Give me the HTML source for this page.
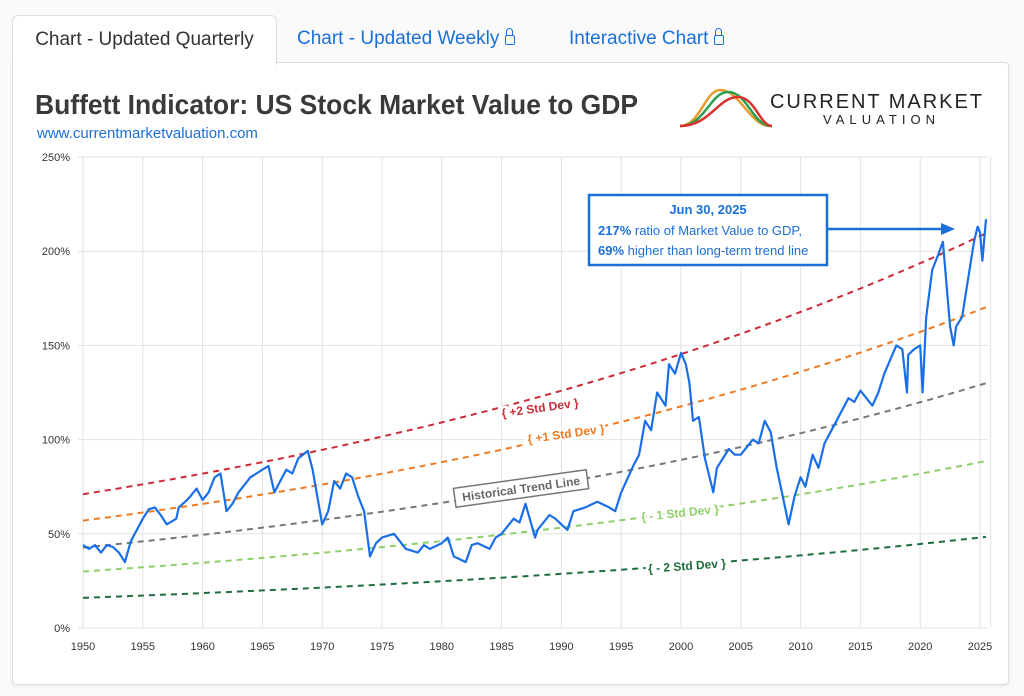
<!DOCTYPE html>
<html><head><meta charset="utf-8"><style>
body{margin:0;width:1024px;height:696px;background:#fafafa;font-family:"Liberation Sans",sans-serif;position:relative;overflow:hidden}
.card{position:absolute;left:12px;top:62px;width:995px;height:621px;background:#fff;border:1px solid #ddd;border-radius:0 4px 4px 4px;box-shadow:0 1px 4px rgba(0,0,0,.08)}
.tab{position:absolute;top:15px;height:48px;font-size:19px;line-height:48px}
.t1{left:12px;width:263px;background:#fff;border:1px solid #ddd;border-bottom:none;border-radius:6px 6px 0 0;color:#333;text-align:center;z-index:2;height:49px}
.t2{left:297px;color:#1a6fd8}.t3{left:569px;color:#1a6fd8}
.lk{display:inline-block;width:8px;height:8px;border:1.5px solid #1a6fd8;border-radius:2px;position:relative;margin-left:6px;top:1px}
.lk:before{content:"";position:absolute;left:0px;top:-8px;width:5px;height:7px;border:1.5px solid #1a6fd8;border-bottom:none;border-radius:4px 4px 0 0}
</style></head><body>
<div class="card"></div>
<div class="tab t1">Chart - Updated Quarterly</div>
<div class="tab t2">Chart - Updated Weekly<span class="lk"></span></div>
<div class="tab t3">Interactive Chart<span class="lk"></span></div>
<svg id="s" width="1024" height="696" style="position:absolute;left:0;top:0;z-index:3" font-family="Liberation Sans, sans-serif">
<text x="35" y="114" font-size="28" font-weight="bold" fill="#3a3a3a" textLength="603" lengthAdjust="spacingAndGlyphs">Buffett Indicator: US Stock Market Value to GDP</text>
<text x="37" y="138" font-size="15" fill="#1a6fd8">www.currentmarketvaluation.com</text>
<path d="M680 126 C700 126 705 90 720 90 C740 90 750 126 770 126" stroke="#e89a2c" stroke-width="2.5" fill="none"/>
<path d="M680 126 C705 126 710 92 728 92 C748 92 752 126 772 126" stroke="#2aa052" stroke-width="2.5" fill="none"/>
<path d="M680 126 C710 126 718 97 738 97 C755 97 760 126 772 126" stroke="#d8322c" stroke-width="2.5" fill="none"/>
<text x="770" y="108" font-size="20" fill="#222" textLength="212" lengthAdjust="spacing">CURRENT MARKET</text>
<text x="823" y="124" font-size="13" fill="#222" textLength="112" lengthAdjust="spacing">VALUATION</text>
<g id="grid"></g>
<g id="lines"></g>
<rect x="589" y="195" width="238" height="70" fill="#fff" stroke="#1a6fd8" stroke-width="2.5"/>
<text x="708" y="214" font-size="13" font-weight="bold" fill="#1a6fd8" text-anchor="middle">Jun 30, 2025</text>
<text x="598" y="235" font-size="13" fill="#1a6fd8"><tspan font-weight="bold">217%</tspan> ratio of Market Value to GDP,</text>
<text x="598" y="255" font-size="13" fill="#1a6fd8"><tspan font-weight="bold">69%</tspan> higher than long-term trend line</text>
<line x1="827" y1="229" x2="945" y2="229" stroke="#1a6fd8" stroke-width="2.5"/>
<polygon points="955,229 941,223 941,235" fill="#1a6fd8"/>
<g font-size="12" font-weight="bold" stroke="#fff" stroke-width="5" paint-order="stroke">
<text x="540" y="412" fill="#cc2b3a" text-anchor="middle" transform="rotate(-8 540 408)">{ +2 Std Dev }</text>
<text x="566" y="438" fill="#ee7b22" text-anchor="middle" transform="rotate(-8 566 434)">{ +1 Std Dev }</text>
<text x="680" y="517" fill="#8fcf6a" text-anchor="middle" transform="rotate(-6 680 513)">{ - 1 Std Dev }</text>
<text x="687" y="570" fill="#1d6e3c" text-anchor="middle" transform="rotate(-4 687 566)">{ - 2 Std Dev }</text>
</g>
<g transform="rotate(-8 521 488)" font-size="12" font-weight="bold"><rect x="454" y="479" width="134" height="19" fill="#fff" stroke="#777" stroke-width="1.5"/><text x="521" y="493" fill="#666" text-anchor="middle">Historical Trend Line</text></g>
</svg>
<script>
var X=function(y){return 83+(y-1950)*11.96},Y=function(p){return 628-p*1.884};
var g='';
for(var yr=1950;yr<=2025;yr+=5){g+='<line x1="'+X(yr)+'" y1="157" x2="'+X(yr)+'" y2="628" stroke="#e2e2e2"/>';g+='<text x="'+X(yr)+'" y="650" font-size="11" fill="#333" text-anchor="middle">'+yr+'</text>';}
g+='<line x1="'+X(2025.9)+'" y1="157" x2="'+X(2025.9)+'" y2="628" stroke="#e2e2e2"/>';
for(var p=0;p<=250;p+=50){g+='<line x1="78" y1="'+Y(p)+'" x2="988" y2="'+Y(p)+'" stroke="#e2e2e2"/>';g+='<text x="70" y="'+(Y(p)+4)+'" font-size="11" fill="#333" text-anchor="end">'+p+'%</text>';}
document.getElementById('grid').innerHTML=g;
function curve(a,b,c){var d='';for(var yr=1950;yr<=2025.5;yr+=0.5){var v=a*Math.pow(b/a,(yr-1950)/75);d+=(d?'L':'M')+X(yr).toFixed(1)+' '+Y(v).toFixed(1);}return '<path d="'+d+'" stroke="'+c+'" stroke-width="2" fill="none" stroke-dasharray="6,5"/>';}
var l=curve(71,208,'#cc2b3a')+curve(57,169,'#ee7b22')+curve(42.7,129,'#777')+curve(30,88,'#8fcf6a')+curve(16,48,'#1d6e3c');
var pts=[1950,44,1950.5,42,1951,44,1951.5,40,1952,44,1952.5,43,1953,40,1953.5,35,1954,46,1954.5,52,1955,58,1955.5,63,1956,64,1956.5,60,1957,55,1957.8,58,1958,64,1958.7,68,1959,70,1959.5,74,1960,68,1960.5,72,1961,80,1961.5,82,1962,62,1962.5,66,1963,72,1964,80,1964.5,82,1965,84,1965.5,86,1966,72,1966.5,78,1967,84,1967.5,82,1968,90,1968.8,94,1969.2,84,1970,55,1970.5,62,1971,78,1971.5,74,1972,82,1972.5,80,1973,70,1973.5,62,1974,38,1974.5,45,1975,48,1976,50,1976.5,46,1977,42,1978,40,1978.5,44,1979,42,1980,45,1980.5,48,1981,38,1982,35,1982.5,44,1983,45,1984,42,1984.5,48,1985,50,1986,58,1986.5,56,1987,66,1987.8,48,1988,52,1989,60,1989.5,58,1990,55,1990.5,52,1991,62,1992,64,1993,67,1994,64,1994.5,62,1995,72,1996,86,1996.5,92,1997,110,1997.5,105,1998,125,1998.7,118,1999,140,1999.5,135,2000,146,2000.4,140,2000.7,130,2001,110,2001.5,112,2002,90,2002.7,72,2003,85,2004,95,2004.5,92,2005,92,2006,100,2006.5,98,2007,110,2007.5,104,2008,85,2008.5,70,2009,55,2009.5,70,2010,80,2010.4,75,2011,92,2011.5,85,2012,98,2013,110,2014,122,2014.5,120,2015,126,2015.5,122,2016,118,2016.5,125,2017,135,2018,150,2018.5,148,2018.9,125,2019,145,2019.5,148,2020,150,2020.2,125,2020.5,165,2021,190,2021.5,198,2021.9,205,2022.3,175,2022.5,160,2022.8,150,2023,160,2023.5,165,2024,185,2024.5,205,2024.8,213,2025,210,2025.2,195,2025.5,217];
var d='';for(var i=0;i<pts.length;i+=2)d+=(i?'L':'M')+X(pts[i]).toFixed(1)+' '+Y(pts[i+1]).toFixed(1);
l+='<path d="'+d+'" stroke="#1a6fe8" stroke-width="2.2" fill="none" stroke-linejoin="round"/>';
document.getElementById('lines').innerHTML=l;
</script>
</body></html>
